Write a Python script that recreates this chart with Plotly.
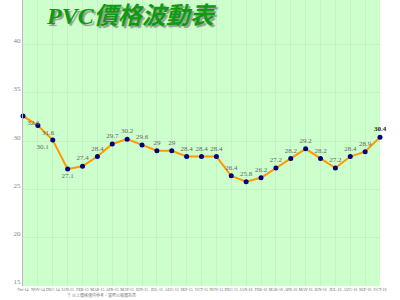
import plotly.graph_objects as go

months = ["Oct-14", "NOV-14", "DEC-14", "JAN-15", "FEB-15", "MAR-15", "APR-15", "MAY-15",
          "JUN-15", "JUL-15", "AUG-15", "SEP-15", "OCT-15", "NOV-15", "DEC-15", "JAN-16",
          "FEB-16", "MAR-16", "APR-16", "MAY-16", "JUN-16", "JUL-16", "AUG-16", "SEP-16", "OCT-16"]
prices = [32.6, 31.6, 30.1, 27.1, 27.4, 28.4, 29.7, 30.2, 29.6, 29, 29, 28.4, 28.4, 28.4,
          26.4, 25.8, 26.2, 27.2, 28.2, 29.2, 28.2, 27.2, 28.4, 28.9, 30.4]
labels = ["32.6", "31.6", "30.1", "27.1", "27.4", "28.4", "29.7", "30.2", "29.6", "29", "29",
          "28.4", "28.4", "28.4", "26.4", "25.8", "26.2", "27.2", "28.2", "29.2", "28.2", "27.2",
          "28.4", "28.9", "30.4"]
yticks = [15, 20, 25, 30, 35, 40]

xs = list(range(len(months)))
positions = ["bottom right", "bottom right", "bottom left", "bottom center"] + ["top center"] * (len(months) - 4)
text_colors = ["#666666"] * (len(months) - 1) + ["#222222"]
text_labels = labels[:-1] + ["<b>" + labels[-1] + "</b>"]
serif = "Liberation Serif, Times New Roman, serif"

fig = go.Figure()
fig.add_trace(go.Scatter(
    x=xs, y=prices, mode="lines+markers+text",
    line=dict(color="#ff9900", width=2),
    marker=dict(color="#000080", size=5),
    text=text_labels, textposition=positions,
    textfont=dict(family=serif, size=7, color=text_colors),
    cliponaxis=False, hoverinfo="skip",
))

fig.update_layout(
    width=400, height=300,
    margin=dict(l=23, r=20, t=0, b=14),
    paper_bgcolor="white", plot_bgcolor="#ccffcc",
    showlegend=False,
    xaxis=dict(range=[0, 24], tickvals=xs, ticktext=months, tickangle=0,
               tickfont=dict(family=serif, size=4, color="#666666"),
               ticklabelstandoff=0,
               showgrid=True, gridcolor="#c4f2c4", gridwidth=1, zeroline=False,
               showline=False, ticks=""),
    yaxis=dict(range=[15, 44.6], tickvals=yticks,
               tickfont=dict(family=serif, size=7, color="#888888"),
               ticklabelshift=-4,
               showgrid=True, gridcolor="#c4f2c4", zeroline=False,
               showline=True, linecolor="#bbbbbb", linewidth=1, ticks=""),
)

title = "<i><b>PVC價格波動表</b></i>"
fig.add_annotation(xref="paper", yref="paper", x=0.06, y=1.0, xanchor="left", yanchor="top",
                   yshift=-1, text=title, showarrow=False,
                   font=dict(family="Liberation Serif, Noto Sans CJK TC", size=24, color="#109a10",
                             shadow="2px 2px 1px #8f9f8f"))
fig.add_annotation(xref="paper", yref="paper", x=0.12, y=-0.045, xanchor="left", yanchor="bottom",
                   text="※ 以上價格僅供參考，實際以報價為準", showarrow=False, borderpad=0,
                   font=dict(family="Noto Sans CJK TC", size=4, color="#888888"))

fig.write_html("out.html")
